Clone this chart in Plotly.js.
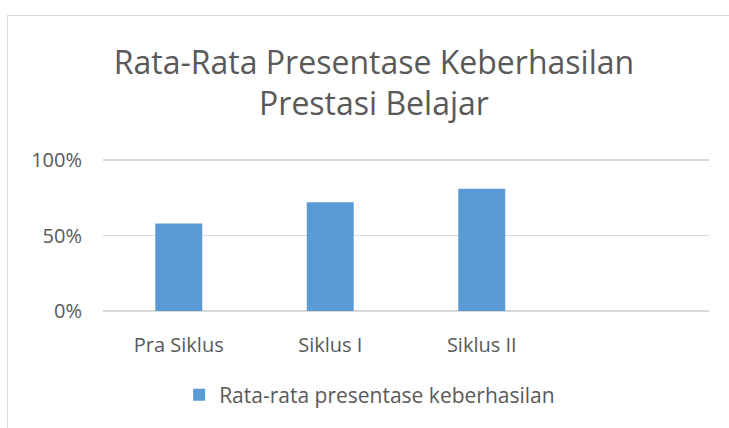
<!DOCTYPE html>
<html><head><meta charset="utf-8">
<script src="https://cdn.plot.ly/plotly-3.0.1.min.js"></script>
<style>
html,body{margin:0;padding:0;background:#fff;}
#wrap{position:relative;width:729px;height:428px;overflow:hidden;}
#frame{position:absolute;left:7px;top:15px;width:740px;height:420px;border:1px solid #d9d9d9;box-sizing:border-box;}
#chart{position:absolute;left:0;top:0;width:729px;height:428px;}
</style></head>
<body>
<div id="wrap"><div id="frame"></div><div id="chart"></div></div>
<script>
const categories = ["Pra Siklus", "Siklus I", "Siklus II", " "];
const values = [0.58, 0.72, 0.81, null];
const seriesName = "Rata-rata presentase keberhasilan";
const yTickVals = [0, 0.5, 1];
const yTickText = ["0%", "50%", "100%"];
const titleText = "Rata-Rata Presentase Keberhasilan<br>Prestasi Belajar";

const font = "Open Sans, Liberation Sans, sans-serif";
Plotly.newPlot("chart", [{
  type: "bar", x: categories, y: values, name: seriesName,
  marker: {color: "#5b9bd5"}, width: 0.31, showlegend: true
}], {
  width: 729, height: 428,
  paper_bgcolor: "rgba(0,0,0,0)", plot_bgcolor: "rgba(0,0,0,0)",
  margin: {l: 103, r: 20, t: 158, b: 113},
  title: {text: titleText, x: 0.513, xanchor: "center", y: 0.828, yanchor: "top",
          font: {family: font, size: 32, color: "#595959"}},
  xaxis: {type: "category", categoryarray: categories, categoryorder: "array",
          range: [-0.5, 3.5], showgrid: false, zeroline: false, showline: false,
          ticks: "", ticklabelstandoff: 18, tickfont: {family: font, size: 20, color: "#595959"}},
  yaxis: {range: [-0.013, 1.013], tickvals: yTickVals, ticktext: yTickText,
          showgrid: true, gridcolor: "#d9d9d9", gridwidth: 1.5, zeroline: false,
          ticks: "", ticklabelstandoff: 20, tickfont: {family: font, size: 20, color: "#595959"}},
  showlegend: true,
  legend: {orientation: "h", x: 0.44, xanchor: "center", y: -0.53, yanchor: "middle",
           font: {family: font, size: 21, color: "#595959"}},
}, {displayModeBar: false, staticPlot: true});
</script>
</body></html>
